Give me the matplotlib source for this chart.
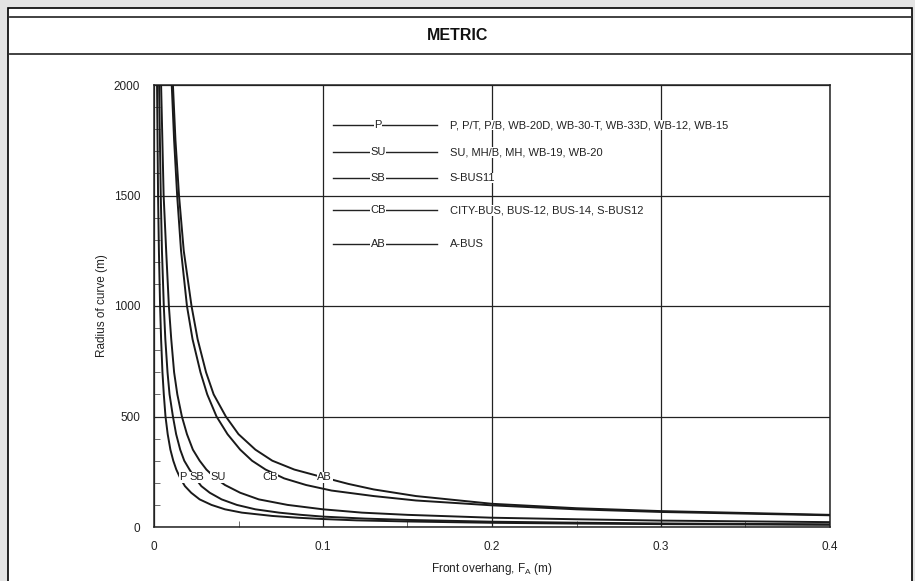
"""Front overhang vs radius of curve, metric chart."""

import matplotlib
matplotlib.use('Agg')
import matplotlib.pyplot as plt
from matplotlib.patches import Rectangle
from matplotlib.lines import Line2D

plt.rcParams['font.family'] = ['Liberation Sans', 'DejaVu Sans']

# curve points: front overhang F_A [m] and radius R [m]
P_F = [0.0018, 0.0024, 0.0029, 0.0036, 0.0042, 0.0050, 0.0058, 0.0068, 0.0081, 0.0097,
       0.0114, 0.0132, 0.0156, 0.0183, 0.022, 0.027, 0.034, 0.042, 0.052, 0.07,
       0.085, 0.1, 0.12, 0.15, 0.2, 0.25, 0.3, 0.4]
P_R = [2000, 1500, 1250, 1000, 850, 700, 600, 500, 420, 350,
       300, 260, 220, 185, 155, 125, 100, 80, 65, 50,
       42, 36, 30, 25, 19, 15.5, 13, 10]

SB_F = [0.003, 0.004, 0.0047, 0.0058, 0.0067, 0.008, 0.0092, 0.0112, 0.0131, 0.0155,
        0.0179, 0.021, 0.0245, 0.028, 0.033, 0.04, 0.049, 0.06, 0.074, 0.087,
        0.1, 0.125, 0.15, 0.2, 0.25, 0.3, 0.4]
SB_R = [2000, 1500, 1250, 1000, 850, 700, 600, 500, 420, 350,
        300, 260, 220, 185, 155, 125, 100, 80, 65, 55,
        47, 38, 32, 24, 19.5, 16, 12]

SU_F = [0.0042, 0.0057, 0.0072, 0.0088, 0.0102, 0.0119, 0.0138, 0.0165, 0.0195, 0.023,
        0.027, 0.031, 0.0365, 0.042, 0.051, 0.062, 0.079, 0.1, 0.123, 0.15,
        0.2, 0.25, 0.3, 0.4]
SU_R = [2000, 1500, 1250, 1000, 850, 700, 600, 500, 420, 350,
        300, 260, 220, 190, 155, 125, 100, 80, 65, 55,
        42, 35, 29, 22]

CB_F = [0.0105, 0.0119, 0.0137, 0.016, 0.0195, 0.0228, 0.0275, 0.0315, 0.037, 0.0435,
        0.051, 0.058, 0.066, 0.077, 0.09, 0.105, 0.13, 0.155, 0.2, 0.25,
        0.3, 0.4]
CB_R = [2000, 1750, 1500, 1250, 1000, 850, 700, 600, 500, 420,
        350, 300, 260, 220, 190, 165, 140, 120, 98, 80,
        68, 53]

AB_F = [0.0112, 0.0127, 0.0148, 0.0176, 0.0222, 0.0258, 0.0308, 0.0353, 0.0425, 0.05,
        0.06, 0.07, 0.083, 0.1, 0.115, 0.13, 0.155, 0.2, 0.25, 0.3,
        0.4]
AB_R = [2000, 1750, 1500, 1250, 1000, 850, 700, 600, 500, 420,
        350, 300, 260, 225, 195, 170, 140, 105, 85, 72,
        55]

CURVE_NAMES = ['P', 'SB', 'SU', 'CB', 'AB']
# where each name sits on its curve
LABEL_F = [0.0172, 0.0254, 0.0379, 0.0686, 0.101]
LABEL_R = 224

LEGEND_KEYS = ['P', 'SU', 'SB', 'CB', 'AB']
LEGEND_TEXT = ['P, P/T, P/B, WB-20D, WB-30-T, WB-33D, WB-12, WB-15',
               'SU, MH/B, MH, WB-19, WB-20',
               'S-BUS11',
               'CITY-BUS, BUS-12, BUS-14, S-BUS12',
               'A-BUS']
LEGEND_R = [1819, 1695, 1579, 1434, 1280]

X_TICKS = [0, 0.1, 0.2, 0.3, 0.4]
Y_TICKS = [0, 500, 1000, 1500, 2000]

W, H = 915, 581
fig = plt.figure(figsize=(W / 100, H / 100), dpi=100)
fig.patch.set_facecolor('#e4e4e4')

# white page with black frame, kept behind the axes
fig.patches.append(Rectangle((8 / W, -0.01), (912 - 8) / W, 1 - 8 / H + 0.01,
                             transform=fig.transFigure, facecolor='white',
                             edgecolor='black', linewidth=1.2, zorder=-5))
for yy in [17, 54]:
    fig.lines.append(Line2D([10 / W, 911 / W], [1 - yy / H, 1 - yy / H],
                            transform=fig.transFigure, color='#333333',
                            linewidth=1.3, zorder=-4))
fig.text(458 / W, 1 - 35 / H, 'METRIC', ha='center', va='center',
         fontsize=11.5, fontweight='bold', color='#111111')

ax = fig.add_axes([154 / W, 1 - 527 / H, 676 / W, 442 / H])
ax.set_facecolor('white')
ax.set_xlim(0, 0.4)
ax.set_ylim(0, 2000)
ax.set_xticks(X_TICKS)
ax.set_xticklabels(['0', '0.1', '0.2', '0.3', '0.4'])
ax.set_yticks(Y_TICKS)
ax.set_xticks([0.05, 0.15, 0.25, 0.35], minor=True)
ax.set_yticks(range(100, 2000, 100), minor=True)
ax.tick_params(which='major', length=0, labelsize=8.5, labelcolor='#222222', pad=10)
ax.tick_params(which='minor', direction='in', length=4, width=0.6, color='#555555')
ax.grid(True, which='major', color='#222222', linewidth=0.9)
for s in ax.spines.values():
    s.set_color('#222222')
    s.set_linewidth(1.1)

for xs, ys in [(P_F, P_R), (SB_F, SB_R), (SU_F, SU_R), (CB_F, CB_R), (AB_F, AB_R)]:
    ax.plot(xs, ys, color='#1a1a1a', linewidth=1.4, zorder=3)

box = dict(facecolor='white', edgecolor='none', pad=0.6)
for name, fx in zip(CURVE_NAMES, LABEL_F):
    ax.text(fx, LABEL_R, name, ha='center', va='center', fontsize=8,
            color='#222222', bbox=box, zorder=4)

# legend drawn as in the original: line with key in the middle, then text
for key, txt, ry in zip(LEGEND_KEYS, LEGEND_TEXT, LEGEND_R):
    ax.plot([0.1059, 0.1675], [ry, ry], color='#222222', linewidth=1.0, zorder=3)
    ax.text(0.1325, ry, key, ha='center', va='center', fontsize=8,
            color='#222222', bbox=dict(facecolor='white', edgecolor='none', pad=0.3), zorder=4)
    ax.text(0.1751, ry, txt, ha='left', va='center', fontsize=8,
            color='#222222', bbox=dict(facecolor='white', edgecolor='none', pad=0.3), zorder=4)

ax.set_ylabel('Radius of curve (m)', fontsize=8.5, color='#222222', labelpad=4)
ax.set_xlabel('Front overhang, F$_\\mathregular{A}$ (m)', fontsize=8.5, color='#222222', labelpad=6)

fig.savefig('out.png', dpi=100, facecolor=fig.get_facecolor())
